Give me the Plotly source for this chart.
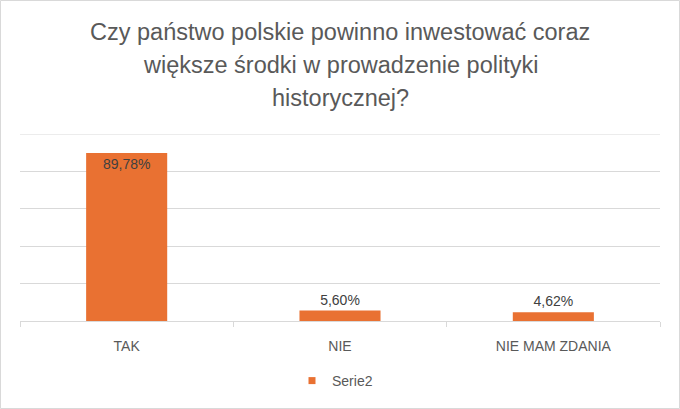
import plotly.graph_objects as go

categories = ["TAK", "NIE", "NIE MAM ZDANIA"]
values = [89.78, 5.60, 4.62]
series_name = "Serie2"
title_lines = ["Czy państwo polskie powinno inwestować coraz",
               "większe środki w prowadzenie polityki",
               "historycznej?"]

W, H = 680, 409
ml, mr, mt, mb = 20, 20, 134, 88
PH = H - mt - mb
FONT = "Liberation Sans, Arial"
BAR_COLOR = "#E97132"
GRID = "#D9D9D9"

fig = go.Figure()
fig.add_trace(go.Bar(
    x=categories, y=values, name=series_name,
    marker=dict(color=BAR_COLOR, line=dict(width=0)),
    texttemplate="%{y:.2f}%",
    textposition=["inside", "outside", "outside"],
    insidetextanchor="end",
    constraintext="none",
    textfont=dict(family=FONT, size=14, color="#404040"),
    outsidetextfont=dict(family=FONT, size=14, color="#404040"),
    insidetextfont=dict(family=FONT, size=14, color="#404040"),
    cliponaxis=False,
    showlegend=False,
))
# legend entry with a small square swatch
fig.add_trace(go.Scatter(
    x=[None], y=[None], mode="markers", name=series_name,
    marker=dict(symbol="square", size=7, color=BAR_COLOR),
    showlegend=True, hoverinfo="skip",
))

title_y = [32, 65, 98]
annotations = [dict(text=t, x=0.5, xref="paper", xanchor="center",
                    y=1 + (mt - yc) / PH, yref="paper", yanchor="middle",
                    showarrow=False,
                    font=dict(family=FONT, size=23.5, color="#595959"))
               for t, yc in zip(title_lines, title_y)]

fig.update_layout(
    width=W, height=H,
    margin=dict(l=ml, r=mr, t=mt, b=mb),
    paper_bgcolor="white", plot_bgcolor="white",
    separators=", ",
    bargap=0.62,
    annotations=annotations,
    xaxis=dict(showgrid=False, showline=True, linecolor=GRID, linewidth=1,
               ticks="outside", tickcolor=GRID, ticklen=5, tickson="boundaries",
               ticklabelstandoff=12,
               tickfont=dict(family=FONT, size=14, color="#595959"),
               fixedrange=True),
    yaxis=dict(range=[0, 100], tick0=0, dtick=20, showgrid=True, gridcolor=GRID, gridwidth=1,
               showticklabels=False, zeroline=False, showline=False, fixedrange=True),
    legend=dict(orientation="h", x=0.5 - 5 / (W - ml - mr), xanchor="center",
                y=-(381 - (H - mb)) / PH, yanchor="middle",
                font=dict(family=FONT, size=14, color="#595959"),
                itemwidth=30),
    shapes=[
        dict(type="rect", xref="paper", yref="paper",
             x0=(0.5 - ml) / (W - ml - mr), x1=1 + (mr - 0.5) / (W - ml - mr),
             y0=-(mb - 0.5) / PH, y1=1 + (mt - 0.5) / PH,
             line=dict(color=GRID, width=1), layer="below"),
        # top gridline (plotly omits the gridline at the range edge)
        dict(type="line", xref="paper", yref="y", x0=0, x1=1, y0=100, y1=100,
             line=dict(color=GRID, width=1), layer="below"),
    ],
)

fig.write_html("out.html")
